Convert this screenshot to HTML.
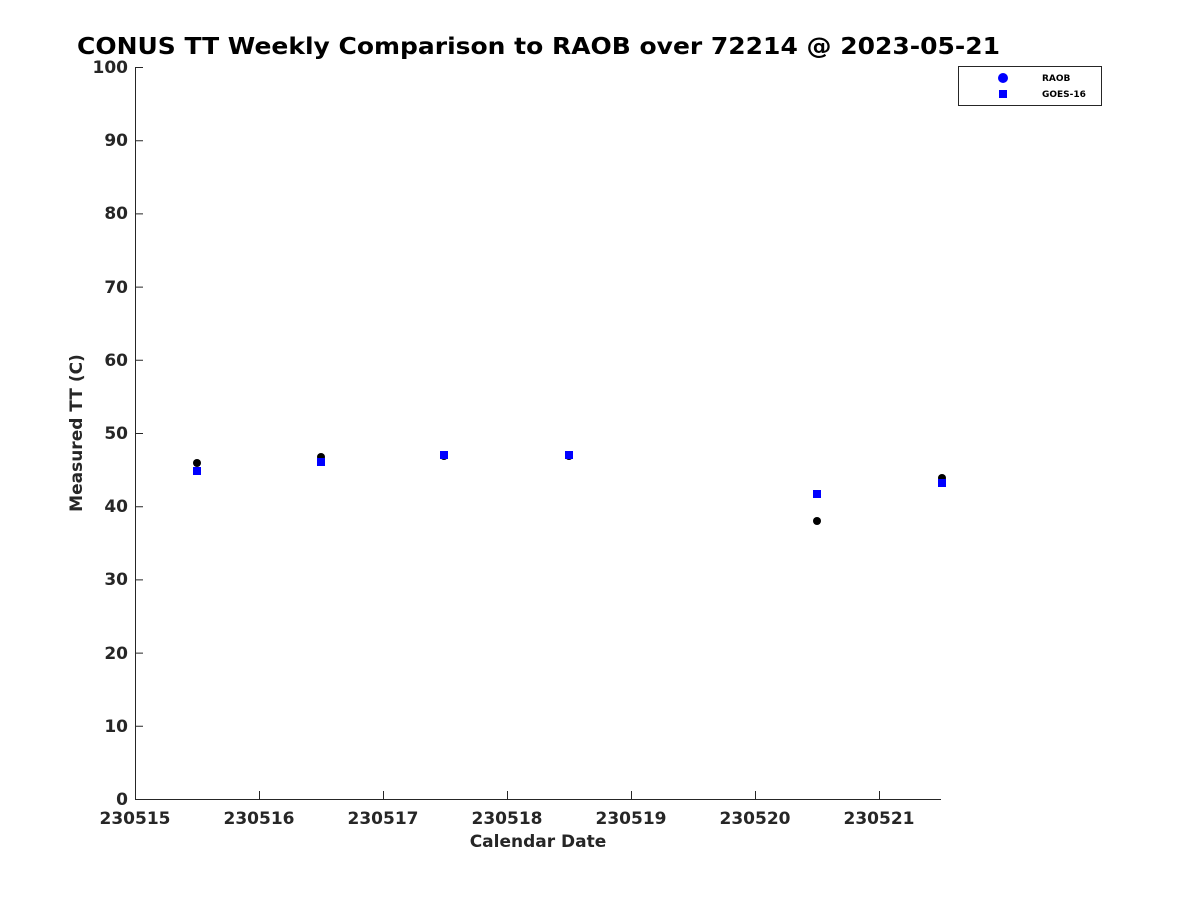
<!DOCTYPE html>
<html><head><style>body{margin:0;background:#fff}svg{display:block}</style></head><body>
<svg width="1200" height="900" xmlns="http://www.w3.org/2000/svg" font-family="DejaVu Sans, sans-serif">
<rect width="1200" height="900" fill="#fff"/>
<text x="77" y="54" font-size="23" font-weight="bold" fill="#000" textLength="923" lengthAdjust="spacingAndGlyphs">CONUS TT Weekly Comparison to RAOB over 72214 @ 2023-05-21</text>
<g stroke="#262626" stroke-width="1" fill="none">
<line x1="135.5" y1="67" x2="135.5" y2="800"/>
<line x1="135" y1="799.5" x2="941" y2="799.5"/>
<path d="M135 67.5h8M135 140.7h8M135 213.9h8M135 287.1h8M135 360.3h8M135 433.5h8M135 506.7h8M135 579.9h8M135 653.1h8M135 726.3h8"/>
<path d="M259.5 799v-8M383.5 799v-8M507.5 799v-8M631.5 799v-8M755.5 799v-8M879.5 799v-8"/>
</g>
<g font-size="17" font-weight="bold" fill="#262626" text-anchor="end">
<text x="128" y="73">100</text><text x="128" y="146">90</text><text x="128" y="219">80</text><text x="128" y="293">70</text><text x="128" y="366">60</text><text x="128" y="439">50</text><text x="128" y="512">40</text><text x="128" y="585">30</text><text x="128" y="659">20</text><text x="128" y="732">10</text><text x="128" y="805">0</text>
</g>
<g font-size="17" font-weight="bold" fill="#262626" text-anchor="middle">
<text x="135" y="824">230515</text><text x="259" y="824">230516</text><text x="383" y="824">230517</text><text x="507" y="824">230518</text><text x="631" y="824">230519</text><text x="755" y="824">230520</text><text x="879" y="824">230521</text>
<text x="538" y="847">Calendar Date</text>
<text transform="translate(82,433) rotate(-90)">Measured TT (C)</text>
</g>
<g fill="#000">
<circle cx="197" cy="463" r="4"/><circle cx="321" cy="457" r="4"/><circle cx="444" cy="456" r="4"/><circle cx="569" cy="456" r="4"/><circle cx="817" cy="521" r="4"/><circle cx="942" cy="478" r="4"/>
</g>
<g fill="#0000ff">
<rect x="193" y="467" width="8" height="8"/><rect x="317" y="458" width="8" height="8"/><rect x="440" y="451" width="8" height="8"/><rect x="565" y="451" width="8" height="8"/><rect x="813" y="490" width="8" height="8"/><rect x="938" y="479" width="8" height="8"/>
</g>
<rect x="958.5" y="66.5" width="143" height="39" fill="#fff" stroke="#262626"/>
<circle cx="1003" cy="78" r="5" fill="#0000ff"/>
<rect x="999" y="90" width="8" height="8" fill="#0000ff"/>
<g font-size="9" font-weight="bold" fill="#000">
<text x="1042" y="81">RAOB</text><text x="1042" y="97">GOES-16</text>
</g>
</svg>
</body></html>
